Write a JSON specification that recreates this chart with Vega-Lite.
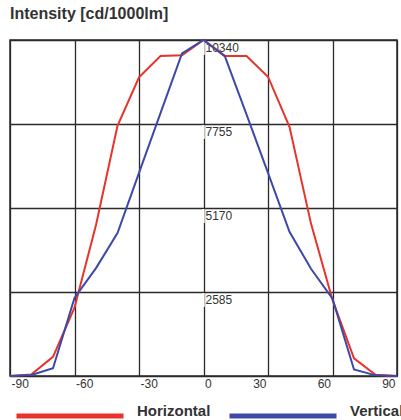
{
  "$schema": "https://vega.github.io/schema/vega-lite/v6.json",
  "width": 387,
  "height": 336,
  "autosize": {"type": "none"},
  "padding": {"left": 10, "top": 40, "right": 4, "bottom": 44},
  "background": "white",
  "title": {
    "text": "Intensity [cd/1000lm]",
    "anchor": "start",
    "frame": "group",
    "fontSize": 16,
    "fontWeight": "bold",
    "font": "Liberation Sans",
    "color": "#333333",
    "offset": 1,
    "baseline": "alphabetic"
  },
  "config": {
    "view": {"stroke": "#2a2a2a", "strokeWidth": 1.5},
    "axis": {"gridColor": "#2a2a2a", "gridWidth": 1.3, "gridOpacity": 1}
  },
  "datasets": {
    "ticks": [
      {"v": 2585},
      {"v": 5170},
      {"v": 7755},
      {"v": 10340}
    ],
    "curves": [
      {"angle": -90, "value": 0, "series": "Horizontal"},
      {"angle": -80, "value": 50, "series": "Horizontal"},
      {"angle": -70, "value": 590, "series": "Horizontal"},
      {"angle": -60, "value": 2100, "series": "Horizontal"},
      {"angle": -50, "value": 4650, "series": "Horizontal"},
      {"angle": -40, "value": 7700, "series": "Horizontal"},
      {"angle": -30, "value": 9190, "series": "Horizontal"},
      {"angle": -20, "value": 9850, "series": "Horizontal"},
      {"angle": -10, "value": 9870, "series": "Horizontal"},
      {"angle": 0, "value": 10340, "series": "Horizontal"},
      {"angle": 10, "value": 9850, "series": "Horizontal"},
      {"angle": 20, "value": 9850, "series": "Horizontal"},
      {"angle": 30, "value": 9210, "series": "Horizontal"},
      {"angle": 40, "value": 7670, "series": "Horizontal"},
      {"angle": 50, "value": 4690, "series": "Horizontal"},
      {"angle": 60, "value": 2340, "series": "Horizontal"},
      {"angle": 70, "value": 545, "series": "Horizontal"},
      {"angle": 80, "value": 40, "series": "Horizontal"},
      {"angle": 90, "value": 0, "series": "Horizontal"},
      {"angle": -90, "value": 0, "series": "Vertical"},
      {"angle": -80, "value": 30, "series": "Vertical"},
      {"angle": -70, "value": 240, "series": "Vertical"},
      {"angle": -60, "value": 2400, "series": "Vertical"},
      {"angle": -50, "value": 3320, "series": "Vertical"},
      {"angle": -40, "value": 4400, "series": "Vertical"},
      {"angle": -30, "value": 6250, "series": "Vertical"},
      {"angle": -20, "value": 8090, "series": "Vertical"},
      {"angle": -10, "value": 9930, "series": "Vertical"},
      {"angle": 0, "value": 10340, "series": "Vertical"},
      {"angle": 10, "value": 9830, "series": "Vertical"},
      {"angle": 20, "value": 8050, "series": "Vertical"},
      {"angle": 30, "value": 6250, "series": "Vertical"},
      {"angle": 40, "value": 4440, "series": "Vertical"},
      {"angle": 50, "value": 3300, "series": "Vertical"},
      {"angle": 60, "value": 2380, "series": "Vertical"},
      {"angle": 70, "value": 200, "series": "Vertical"},
      {"angle": 80, "value": 20, "series": "Vertical"},
      {"angle": 90, "value": 0, "series": "Vertical"}
    ]
  },
  "layer": [
    {
      "data": {"name": "ticks"},
      "mark": {
        "type": "point",
        "shape": "M-0.08,0.07L0.08,0.07L0.08,1L-0.08,1Z",
        "size": 900,
        "filled": true,
        "color": "white",
        "opacity": 1,
        "strokeWidth": 0
      },
      "encoding": {
        "x": {"datum": 0, "type": "quantitative"},
        "y": {"field": "v", "type": "quantitative"}
      }
    },
    {
      "data": {"name": "curves"},
      "mark": {"type": "line", "strokeWidth": 2},
      "encoding": {
        "x": {
          "field": "angle",
          "type": "quantitative",
          "scale": {"domain": [-90, 90], "nice": false, "zero": false},
          "axis": {
            "values": [-90, -60, -30, 0, 30, 60, 90],
            "grid": true,
            "domain": false,
            "ticks": false,
            "title": null,
            "labelExpr": "'' + datum.value",
            "labelAlign": {"condition": {"test": "datum.value <= 0", "value": "left"}, "value": "right"},
            "labelOffset": {"condition": {"test": "datum.value <= 0", "value": 1}, "value": -2},
            "labelPadding": 2,
            "labelFontSize": 12,
            "labelFont": "Liberation Sans",
            "labelColor": "#333333",
            "labelFlush": false,
            "labelOverlap": false,
            "labelBound": false
          }
        },
        "y": {
          "field": "value",
          "type": "quantitative",
          "scale": {"domain": [0, 10340], "nice": false},
          "axis": {
            "orient": "right",
            "offset": -193,
            "values": [0, 2585, 5170, 7755, 10340],
            "grid": true,
            "domain": false,
            "ticks": false,
            "title": null,
            "labelExpr": "datum.value == 0 ? '' : '' + datum.value",
            "labelAlign": "left",
            "labelBaseline": "top",
            "labelPadding": 1,
            "labelOffset": 2,
            "labelFontSize": 12,
            "labelFont": "Liberation Sans",
            "labelColor": "#333333",
            "labelFlush": false,
            "labelOverlap": false,
            "labelBound": false
          }
        },
        "color": {
          "field": "series",
          "type": "nominal",
          "scale": {"domain": ["Horizontal", "Vertical"], "range": ["#e8332b", "#3c49a6"]},
          "legend": {
            "orient": "none",
            "legendX": 4,
            "legendY": 320,
            "direction": "horizontal",
            "title": null,
            "symbolType": "stroke",
            "symbolSize": 11449,
            "symbolStrokeWidth": 5,
            "labelFontSize": 15,
            "labelFontWeight": "bold",
            "labelFont": "Liberation Sans",
            "labelColor": "#333333",
            "labelOffset": 11,
            "labelBaseline": "alphabetic",
            "columnPadding": 8
          }
        }
      }
    }
  ]
}
